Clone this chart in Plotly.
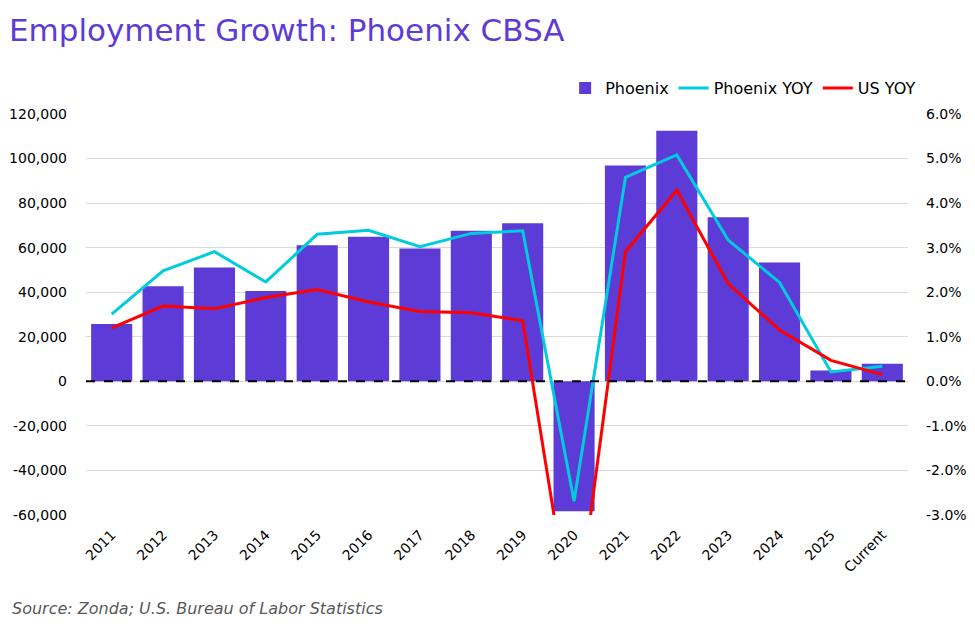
import plotly.graph_objs as go

# ========== Data ==========
years = ['2011', '2012', '2013', '2014', '2015', '2016', '2017', '2018',
         '2019', '2020', '2021', '2022', '2023', '2024', '2025', 'Current']

# annual job change, Phoenix CBSA
phoenix_jobs = [25700, 42700, 51100, 40600, 61100, 64900, 59600, 67600,
                71000, -58300, 96900, 112500, 73700, 53300, 4900, 7900]

# year over year growth
phoenix_yoy = [0.0151, 0.0248, 0.0291, 0.0223, 0.0330, 0.0339, 0.0302, 0.0332,
               0.0338, -0.0269, 0.0458, 0.0508, 0.0317, 0.0222, 0.0021, 0.0034]
us_yoy = [0.0120, 0.0169, 0.0163, 0.0188, 0.0206, 0.0178, 0.0157, 0.0154,
          0.0136, -0.0580, 0.0291, 0.0429, 0.0219, 0.0115, 0.0047, 0.0015]

left_ticks = [-60000, -40000, -20000, 0, 20000, 40000, 60000, 80000, 100000, 120000]
right_ticks = [-0.03, -0.02, -0.01, 0, 0.01, 0.02, 0.03, 0.04, 0.05, 0.06]

# plain hyphen for negatives, like the original
left_text = ['{:,.0f}'.format(v) for v in left_ticks]
right_text = ['{:.1f}%'.format(v * 100) for v in right_ticks]

PURPLE = '#5C3BD6'
CYAN = '#00CCDD'
RED = '#FF0000'
FONT = 'DejaVu Sans'

# page body has an 8px margin, so the figure is a bit smaller than the window
W, H = 959, 612

# ========== Main Viz ==========
fig = go.Figure()

fig.add_trace(go.Bar(
    name='Phoenix',
    x=years,
    y=phoenix_jobs,
    marker=dict(color=PURPLE, line=dict(width=0)),
    yaxis='y'
))

fig.add_trace(go.Scatter(
    name='Phoenix YOY',
    x=years,
    y=phoenix_yoy,
    mode='lines',
    line=dict(color=CYAN, width=3),
    yaxis='y2'
))

fig.add_trace(go.Scatter(
    name='US YOY',
    x=years,
    y=us_yoy,
    mode='lines',
    line=dict(color=RED, width=3),
    yaxis='y2',
    cliponaxis=True
))

# dashed zero line
fig.add_shape(type='line', xref='paper', x0=0, x1=1, yref='y', y0=0, y1=0,
              line=dict(color='black', width=2, dash='dash'))

fig.update_layout(
    width=W,
    height=H,
    paper_bgcolor='white',
    plot_bgcolor='white',
    bargap=0.2,
    font=dict(family=FONT, size=14, color='black'),
    title=dict(text='Employment Growth: Phoenix CBSA', x=0.001, xanchor='left',
               y=0.981, yanchor='top',
               font=dict(family=FONT, size=31, color=PURPLE)),
    xaxis=dict(
        tickangle=-45,
        showgrid=False,
        zeroline=False,
        tickfont=dict(size=14),
        ticklabelstandoff=8,
        automargin=False,
    ),
    yaxis=dict(
        range=[-60000, 120000],
        tickvals=left_ticks,
        ticktext=left_text,
        showgrid=True,
        gridcolor='#D9D9D9',
        gridwidth=1,
        zeroline=False,
        ticklabelstandoff=18,
        automargin=False,
    ),
    yaxis2=dict(
        range=[-0.03, 0.06],
        tickvals=right_ticks,
        ticktext=right_text,
        overlaying='y',
        side='right',
        showgrid=False,
        zeroline=False,
        ticklabelstandoff=17,
        automargin=False,
    ),
    legend=dict(
        orientation='h',
        xanchor='right',
        x=1.016,
        yanchor='bottom',
        y=1.022,
        font=dict(size=16),
        traceorder='normal',
        itemwidth=30,
    ),
    showlegend=True,
    margin=dict(l=78, r=59, t=106, b=105, pad=0),
    annotations=[dict(
        text='<i>Source: Zonda; U.S. Bureau of Labor Statistics</i>',
        xref='paper', yref='paper', x=-0.0925, y=-0.234,
        xanchor='left', yanchor='middle', showarrow=False,
        font=dict(family=FONT, size=16, color='#595959')
    )]
)

fig.write_html("out.html")
